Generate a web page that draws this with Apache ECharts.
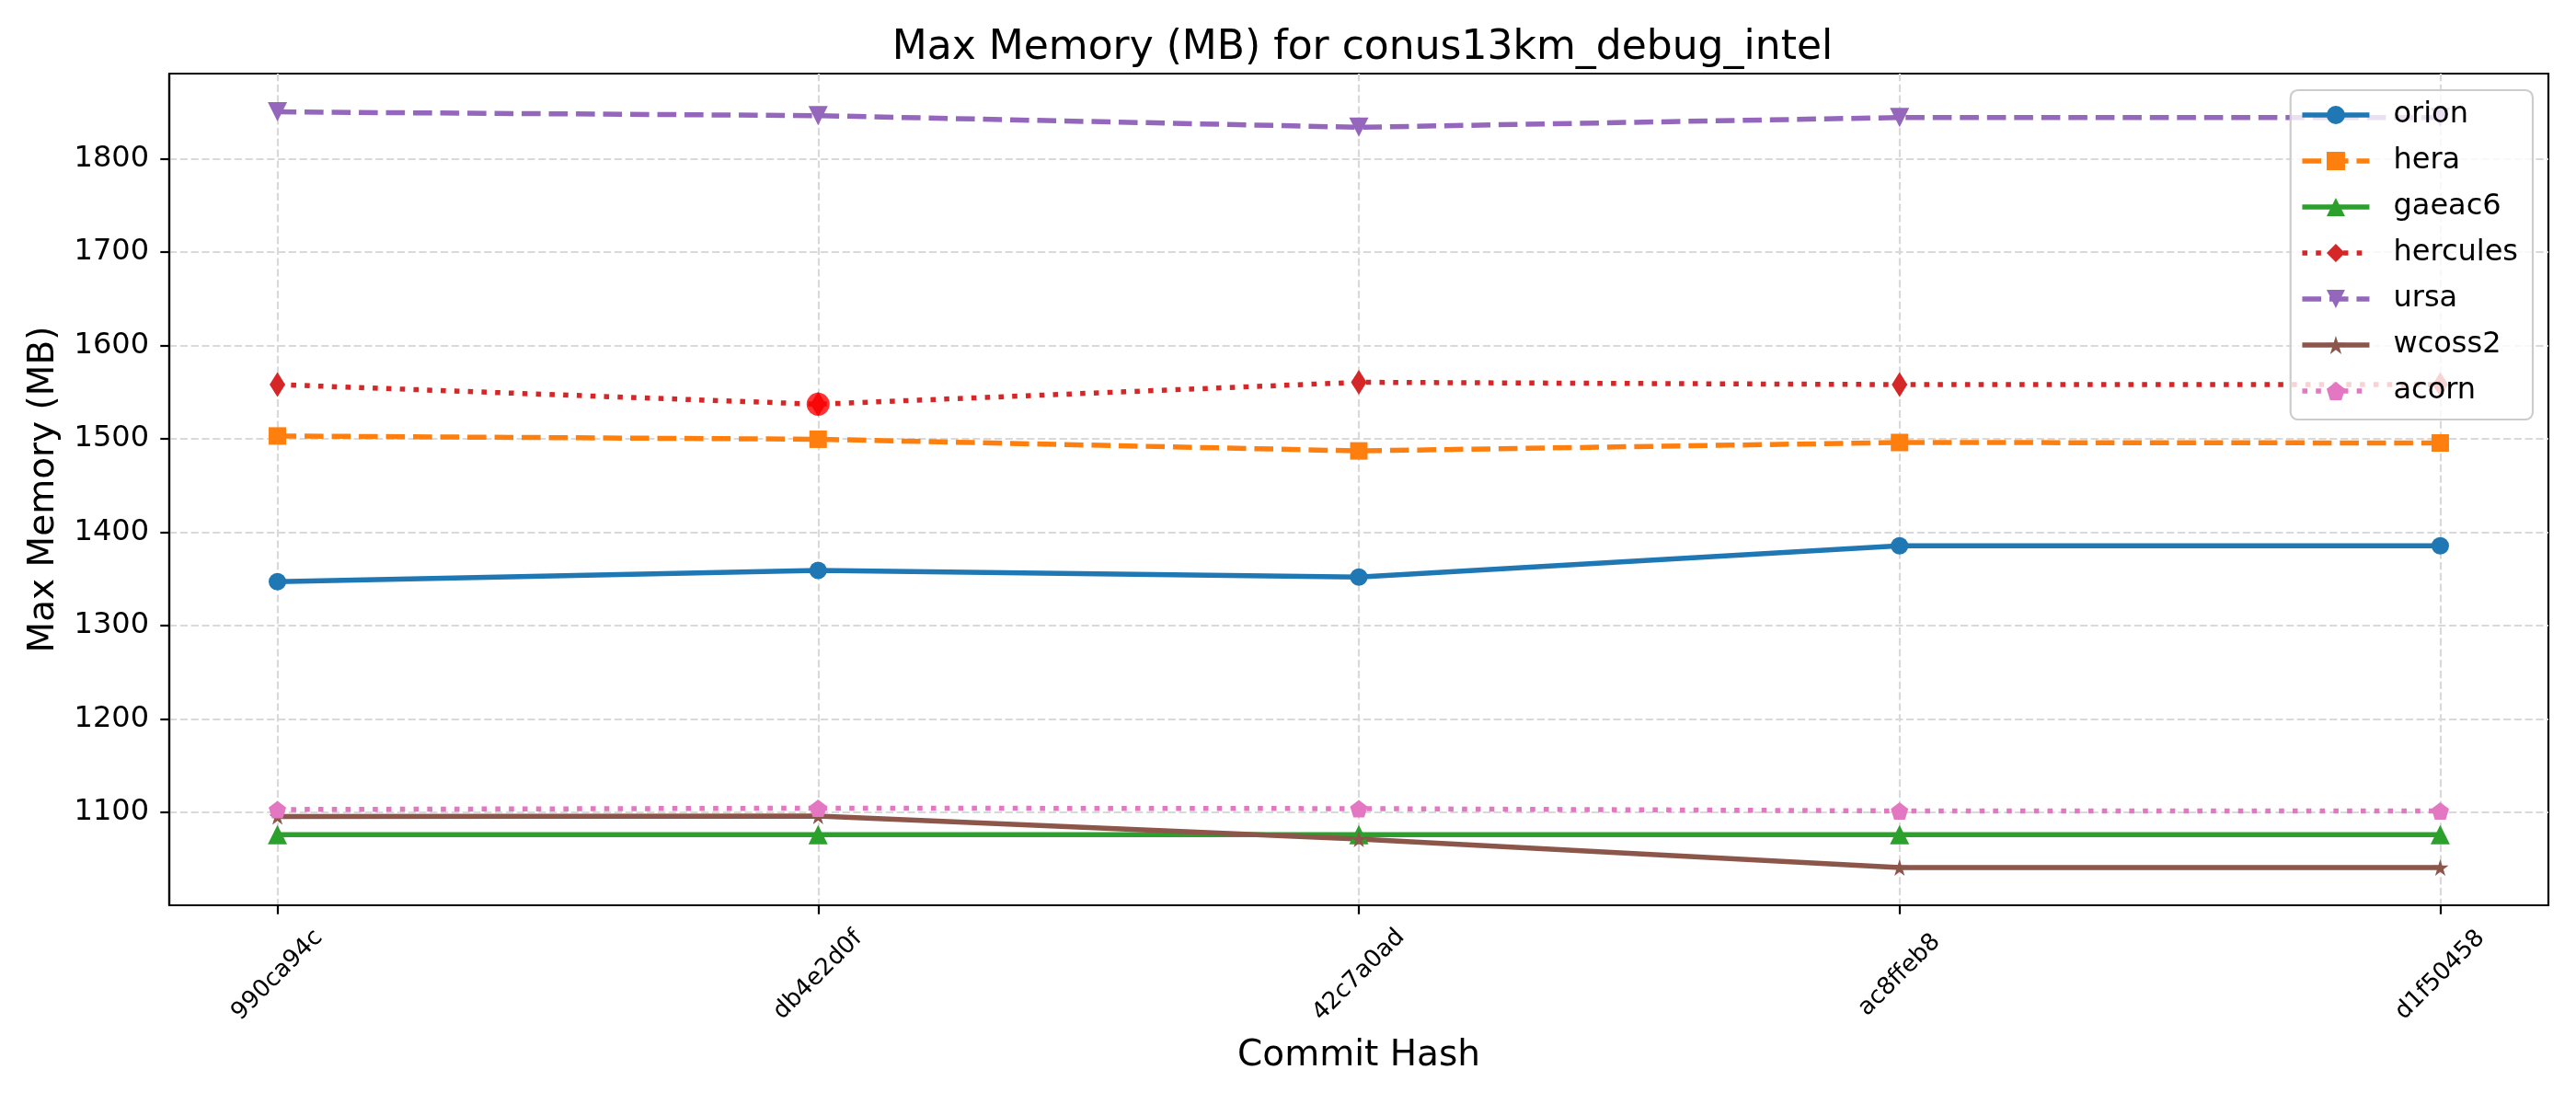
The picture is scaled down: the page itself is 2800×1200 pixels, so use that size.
<!DOCTYPE html>
<html>
<head>
<meta charset="utf-8">
<script src="https://cdn.jsdelivr.net/npm/echarts@6/dist/echarts.min.js"></script>
<style>
  html, body { margin: 0; padding: 0; background: #ffffff; }
  #chart { width: 2800px; height: 1200px; }
</style>
</head>
<body>
<div id="chart"></div>
<script>
// ---- data ----
const categories = ['990ca94c', 'db4e2d0f', '42c7a0ad', 'ac8ffeb8', 'd1f50458'];
const orion    = [1347, 1359, 1352, 1385.5, 1385.5];
const hera     = [1503, 1499.5, 1487, 1496, 1495.5];
const gaeac6   = [1076, 1076, 1076, 1076, 1076];
const hercules = [1558, 1537, 1560.5, 1558, 1558];
const ursa     = [1850, 1846, 1833.5, 1844, 1844];
const wcoss2   = [1095.5, 1096, 1071.5, 1041, 1041];
const acorn    = [1103, 1104.5, 1104, 1101.5, 1101.5];
const highlightIndex = 1;          // highlighted hercules point
const yTicks = [1100, 1200, 1300, 1400, 1500, 1600, 1700, 1800];
const xTicks = [0, 1, 2, 3, 4];
const yMin = 1000.5, yMax = 1891;
const xMin = -0.2, xMax = 4.2;

const STAR = 'path://M50 0 L61.23 34.55 L97.55 34.55 L68.16 55.9 L79.39 90.45 L50 69.1 L20.61 90.45 L31.84 55.9 L2.45 34.55 L38.77 34.55 Z';
const PENTA = 'path://M50 0 L97.55 34.55 L79.39 90.45 L20.61 90.45 L2.45 34.55 Z';

const LW = 5.5;
const DASH = [20.6, 8.9];
const DOT = [5.6, 9.2];

function pts(arr) { return categories.map((c, i) => [i, arr[i]]); }

function lineSeries(name, arr, color, type, symbol, size, rotate) {
  return {
    name: name, type: 'line', data: pts(arr),
    symbol: symbol, symbolSize: size, symbolRotate: rotate || 0,
    showAllSymbol: true,
    lineStyle: { color: color, width: LW, type: type, cap: 'butt' },
    itemStyle: { color: color, borderColor: color, borderWidth: 0 },
    emphasis: { disabled: true },
    z: 3
  };
}

const series = [
  lineSeries('orion', orion, '#1f77b4', 'solid', 'circle', 19),
  lineSeries('hera', hera, '#ff7f0e', DASH, 'rect', 19),
  lineSeries('gaeac6', gaeac6, '#2ca02c', 'solid', 'triangle', 21),
  lineSeries('hercules', hercules, '#d62728', DOT, 'diamond', [17, 27]),
  lineSeries('ursa', ursa, '#9467bd', DASH, 'triangle', 21, 180),
  lineSeries('wcoss2', wcoss2, '#8c564b', 'solid', STAR, 18),
  lineSeries('acorn', acorn, '#e377c2', DOT, PENTA, 19),
  {
    name: 'highlight', type: 'scatter',
    data: [[highlightIndex, hercules[highlightIndex]]],
    symbol: 'circle', symbolSize: 25,
    itemStyle: { color: '#ff0000' },
    emphasis: { disabled: true },
    z: 5
  }
];

const FONT = 'DejaVu Sans';
const gridLine = { show: true, lineStyle: { color: '#d9d9d9', width: 2.2, type: [8.2, 3.6] } };

const option = {
  animation: false,
  backgroundColor: '#ffffff',
  textStyle: { fontFamily: FONT, color: '#000' },
  title: {
    text: 'Max Memory (MB) for conus13km_debug_intel',
    left: 1476, top: 26, textAlign: 'center',
    textStyle: { fontFamily: FONT, fontSize: 44, fontWeight: 'normal', color: '#000' }
  },
  grid: {
    left: 184, top: 80, width: 2586, height: 904,
    show: true, borderColor: '#000', borderWidth: 2.2, backgroundColor: 'transparent'
  },
  legend: {
    data: ['orion', 'hera', 'gaeac6', 'hercules', 'ursa', 'wcoss2', 'acorn'],
    orient: 'vertical', right: 47, top: 98,
    itemWidth: 73, itemHeight: 25, itemGap: 14,
    padding: [9, 16, 13, 10],
    backgroundColor: 'rgba(255,255,255,0.8)',
    borderColor: '#cccccc', borderWidth: 2.2, borderRadius: 8,
    selectedMode: false,
    lineStyle: { width: LW },
    textStyle: { fontFamily: FONT, fontSize: 32, color: '#000', lineHeight: 36, padding: [0, 0, 0, 21] }
  },
  xAxis: {
    type: 'value', min: xMin, max: xMax,
    name: 'Commit Hash', nameLocation: 'middle', nameGap: 144,
    nameTextStyle: { fontFamily: FONT, fontSize: 39, color: '#000' },
    axisLine: { show: true, onZero: false, lineStyle: { color: '#000', width: 2.2 } },
    axisTick: { show: true, length: 9.7, lineStyle: { color: '#000', width: 2.2 }, customValues: xTicks },
    axisLabel: {
      customValues: xTicks, rotate: 45, align: 'center', verticalAlign: 'middle', margin: 76,
      fontFamily: FONT, fontSize: 26, color: '#000',
      formatter: v => categories[Math.round(v)] || ''
    },
    splitLine: gridLine
  },
  yAxis: {
    type: 'value', min: yMin, max: yMax,
    name: 'Max Memory (MB)', nameLocation: 'middle', nameGap: 117,
    nameTextStyle: { fontFamily: FONT, fontSize: 39, color: '#000' },
    axisLine: { show: true, onZero: false, lineStyle: { color: '#000', width: 2.2 } },
    axisTick: { show: true, length: 9.7, lineStyle: { color: '#000', width: 2.2 }, customValues: yTicks },
    axisLabel: {
      customValues: yTicks, margin: 22,
      fontFamily: FONT, fontSize: 32, color: '#000',
      formatter: v => String(v)
    },
    splitLine: gridLine
  },
  series: series
};

const chart = echarts.init(document.getElementById('chart'), null, { renderer: 'canvas', width: 2800, height: 1200 });
chart.setOption(option);
</script>
</body>
</html>
